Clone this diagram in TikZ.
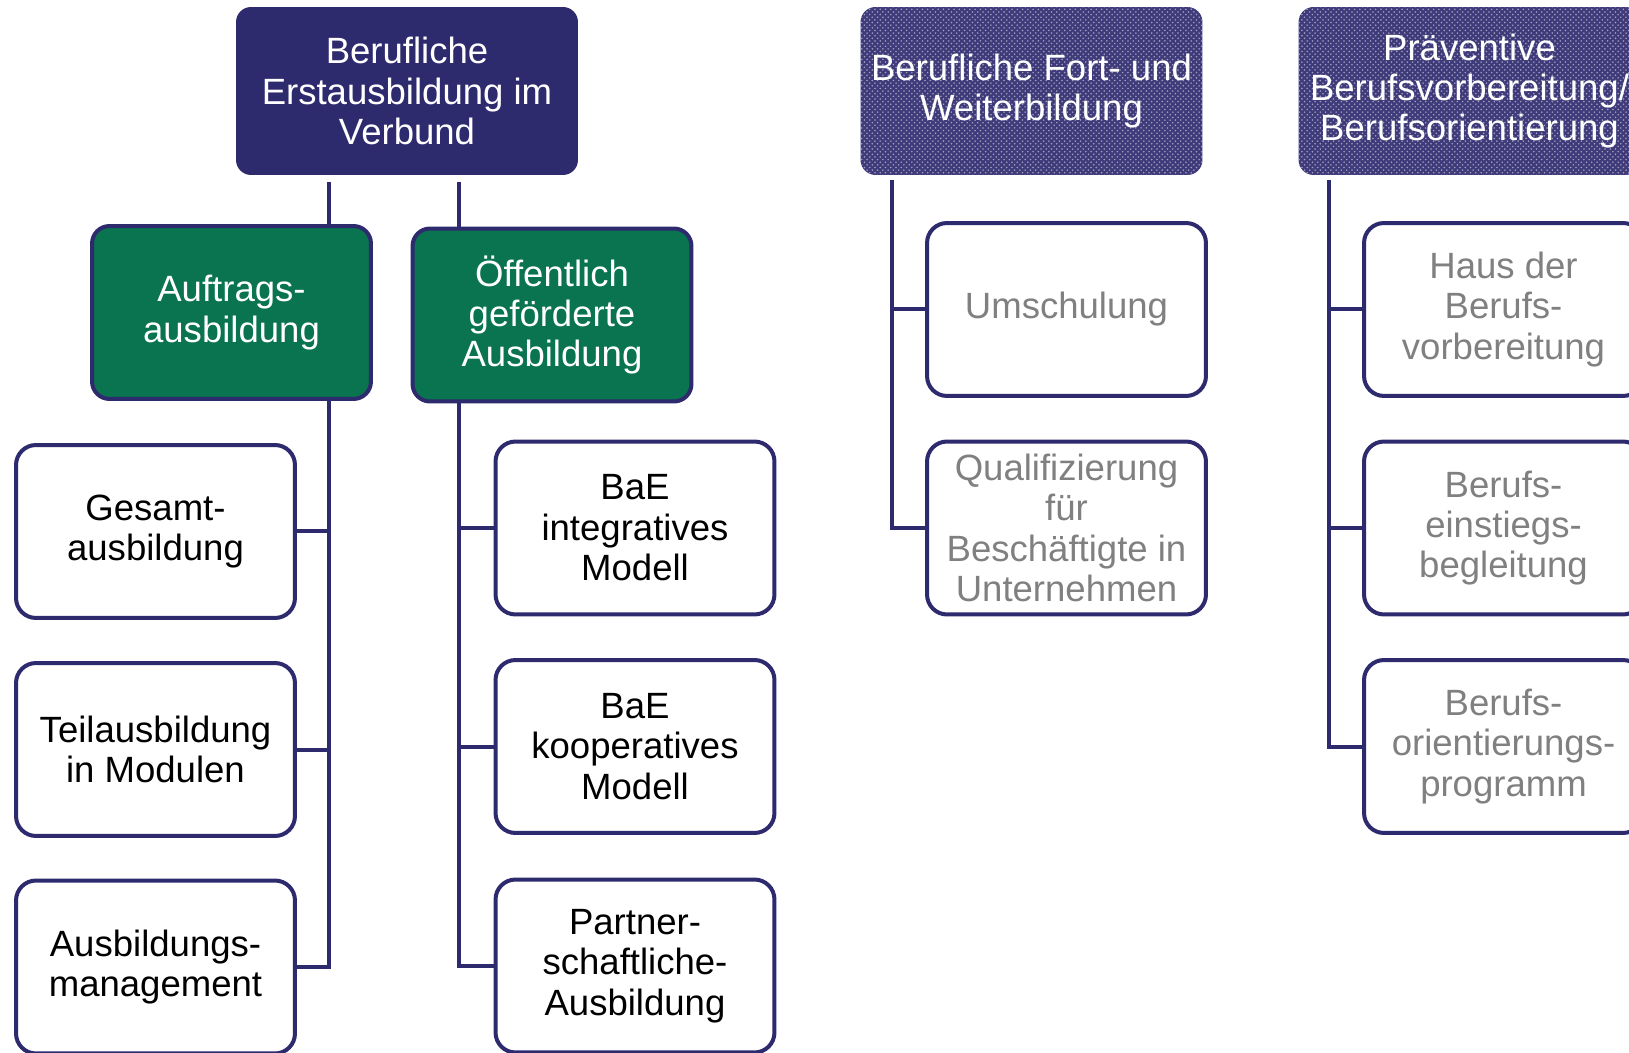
\documentclass[tikz,border=0pt]{standalone}
\usepackage{fontspec}
\setmainfont{Liberation Sans}
\usetikzlibrary{patterns}
\definecolor{navy}{RGB}{46,42,110}
\definecolor{dgreen}{RGB}{10,115,80}
\definecolor{ltgray}{RGB}{128,128,128}
\begin{document}
\begin{tikzpicture}[x=0.02cm, y=-0.02cm,
  txt/.style={align=center, inner sep=1pt, font=\fontsize{20.8}{23}\selectfont},
  head/.style={txt, rectangle, rounded corners=0.3cm, fill=navy, text=white, minimum width=6.84cm, minimum height=3.36cm},
  headdot/.style={head, fill=navy!92!white, postaction={pattern=crosshatch dots, pattern color=navy!45!white}},
  sub/.style={txt, rectangle, rounded corners=0.35cm, draw=navy, line width=0.08cm, fill=dgreen, text=white, minimum width=5.58cm, minimum height=3.46cm},
  leaf/.style={txt, rectangle, rounded corners=0.4cm, draw=navy, line width=0.08cm, fill=white, text=black, minimum width=5.58cm, minimum height=3.46cm},
  leafgray/.style={leaf, text=ltgray},
  trunk/.style={draw=navy, line width=0.08cm}]
\useasboundingbox (0,0) rectangle (1629,1053);
% heads
\node[head] (erst) at (407,91){Berufliche\\Erstausbildung im\\Verbund};
\node[headdot] (fort) at (1031.5,91){Berufliche Fort- und\\Weiterbildung};
\node[headdot] (praev) at (1469.5,91){Pr\"aventive\\Berufsvorbereitung/\\Berufsorientierung};
% second level
\node[sub] (auftrag) at (231.5,312.5){Auftrags-\\ausbildung};
\node[sub] (oeff) at (552,315){\"Offentlich\\gef\"orderte\\Ausbildung};
% left column
\node[leaf] (gesamt) at (155.5,531.5){Gesamt-\\ausbildung};
\node[leaf] (teil) at (155.5,749.5){Teilausbildung\\in Modulen};
\node[leaf] (mgmt) at (155.5,967){Ausbildungs-\\management};
\node[leaf] (integ) at (635,528){BaE\\integratives\\Modell};
\node[leaf] (koop) at (635,746.5){BaE\\kooperatives\\Modell};
\node[leaf] (partner) at (635,966){Partner-\\schaftliche-\\Ausbildung};
% middle column
\node[leafgray] (umsch) at (1066.5,309.5){Umschulung};
\node[leafgray] (quali) at (1066.5,528){Qualifizierung\\f\"ur\\Besch\"aftigte in\\Unternehmen};
% right column
\node[leafgray] (haus) at (1503.5,309.5){Haus der\\Berufs-\\vorbereitung};
\node[leafgray] (einst) at (1503.5,528){Berufs-\\einstiegs-\\begleitung};
\node[leafgray] (orient) at (1503.5,746.5){Berufs-\\orientierungs-\\programm};
% connectors
\coordinate (ta) at (329,182);
\coordinate (tb) at (459,182);
\coordinate (tc) at (891.5,180);
\coordinate (td) at (1329,180);
\draw[trunk](ta) -- (ta |- auftrag.north);
\draw[trunk](ta |- auftrag.south) |- (mgmt.east);
\draw[trunk](ta |- gesamt.east) -- (gesamt.east);
\draw[trunk](ta |- teil.east) -- (teil.east);
\draw[trunk](tb) -- (tb |- oeff.north);
\draw[trunk](tb |- oeff.south) |- (partner.west);
\draw[trunk](tb |- integ.west) -- (integ.west);
\draw[trunk](tb |- koop.west) -- (koop.west);
\draw[trunk](tc) |- (quali.west);
\draw[trunk](tc |- umsch.west) -- (umsch.west);
\draw[trunk](td) |- (orient.west);
\draw[trunk](td |- haus.west) -- (haus.west);
\draw[trunk](td |- einst.west) -- (einst.west);
\end{tikzpicture}
\end{document}
